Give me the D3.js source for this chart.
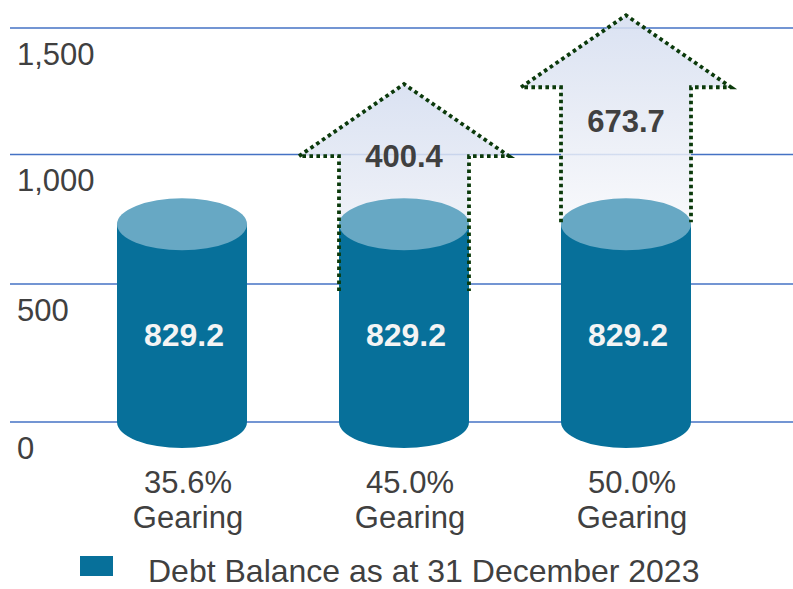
<!DOCTYPE html>
<html>
<head>
<meta charset="utf-8">
<script src="https://cdn.jsdelivr.net/npm/d3@7"></script>
<style>
  body { margin: 0; background: #fff; }
  text { font-family: "Liberation Sans", Arial, sans-serif; }
</style>
</head>
<body>
<div id="chart"></div>
<script>
// data
var categories = ["35.6%", "45.0%", "50.0%"];
var categorySub = "Gearing";
var debtBalance = [829.2, 829.2, 829.2];
var additionalDebt = [null, 400.4, 673.7];
var yTicks = [0, 500, 1000, 1500];
var tickLabels = ["0", "500", "1,000", "1,500"];
var legendLabel = "Debt Balance as at 31 December 2023";

var w = 793, h = 589;
var textColor = "#404040",
    bodyColor = "#07709a",
    topColor = "#67a8c4",
    gridColor = "#4472c4",
    dotColor = "#0b3a0b";

var svg = d3.select("#chart").append("svg")
  .attr("width", w)
  .attr("height", h);

var defs = svg.append("defs");
var grad = defs.append("linearGradient")
  .attr("id", "arrowFill")
  .attr("x1", 0).attr("y1", 0).attr("x2", 0).attr("y2", 1);
grad.append("stop").attr("offset", "0%").attr("stop-color", "#d4ddf0");
grad.append("stop").attr("offset", "45%").attr("stop-color", "#e4e9f4");
grad.append("stop").attr("offset", "100%").attr("stop-color", "#f7f8fb");

var y = d3.scalePow().exponent(0.955).domain([0, 1500]).range([422, 28]);
var x = d3.scaleBand().domain(categories).range([71, 737]);

var rx = 65, ry = 26;
var headH = 72, headHalf = 105, arrowLen = 207, tipPad = 12;

// gridlines
svg.append("g").selectAll("line")
  .data(yTicks)
  .enter().append("line")
  .attr("x1", 10).attr("x2", w)
  .attr("y1", d => y(d)).attr("y2", d => y(d))
  .attr("stroke", gridColor)
  .attr("stroke-width", 1.3);

svg.append("g").selectAll("text")
  .data(yTicks)
  .enter().append("text")
  .attr("x", 17)
  .attr("y", d => y(d) + 37)
  .text((d, i) => tickLabels[i])
  .style("font-size", "31px")
  .style("fill", textColor);

var items = categories.map((c, i) => ({
  cat: c, base: debtBalance[i], extra: additionalDebt[i]
}));

function arrowPts(d) {
  var cx = x(d.cat) + x.bandwidth() / 2;
  var tip = y(d.base + d.extra) - tipPad;
  var hb = tip + headH, sb = tip + arrowLen;
  return { cx: cx, tip: tip, hb: hb, sb: sb };
}

var arrows = items.filter(d => d.extra != null);

// arrow fill behind cylinders
svg.append("g").selectAll("path")
  .data(arrows)
  .enter().append("path")
  .attr("d", d => {
    var a = arrowPts(d);
    return `M${a.cx},${a.tip}L${a.cx + headHalf},${a.hb}L${a.cx + rx},${a.hb}L${a.cx + rx},${a.sb}` +
      `L${a.cx - rx},${a.sb}L${a.cx - rx},${a.hb}L${a.cx - headHalf},${a.hb}Z`;
  })
  .attr("fill", "url(#arrowFill)")
  .attr("fill-opacity", 0.85);

// cylinders
var cyl = svg.append("g").selectAll("g")
  .data(items)
  .enter().append("g");

cyl.append("path")
  .attr("d", d => {
    var cx = x(d.cat) + x.bandwidth() / 2;
    var top = y(d.base) + ry, bot = y(0);
    return `M${cx - rx},${top}L${cx - rx},${bot}A${rx},${ry} 0 0 0 ${cx + rx},${bot}L${cx + rx},${top}Z`;
  })
  .attr("fill", bodyColor);

cyl.append("ellipse")
  .attr("cx", d => x(d.cat) + x.bandwidth() / 2)
  .attr("cy", d => y(d.base) + ry)
  .attr("rx", rx).attr("ry", ry)
  .attr("fill", topColor);

cyl.append("text")
  .attr("x", d => x(d.cat) + x.bandwidth() / 2 + 2)
  .attr("y", y(0) - 76)
  .attr("text-anchor", "middle")
  .text(d => d.base.toFixed(1))
  .style("font-size", "32px")
  .style("font-weight", "bold")
  .style("fill", "#f4f4f4");

// arrow outline on top
svg.append("g").selectAll("path")
  .data(arrows)
  .enter().append("path")
  .attr("d", d => {
    var a = arrowPts(d);
    return `M${a.cx - rx},${a.sb}L${a.cx - rx},${a.hb}L${a.cx - headHalf},${a.hb}L${a.cx},${a.tip}` +
      `L${a.cx + headHalf},${a.hb}L${a.cx + rx},${a.hb}L${a.cx + rx},${a.sb}`;
  })
  .attr("fill", "none")
  .attr("stroke", dotColor)
  .attr("stroke-width", 3.8)
  .attr("stroke-dasharray", "3.6,3.4");

svg.append("g").selectAll("text")
  .data(arrows)
  .enter().append("text")
  .attr("x", d => x(d.cat) + x.bandwidth() / 2)
  .attr("y", d => y(d.base + d.extra / 2) + 20)
  .attr("text-anchor", "middle")
  .text(d => d.extra.toFixed(1))
  .style("font-size", "31px")
  .style("font-weight", "bold")
  .style("fill", textColor);

// category labels
var cats = svg.append("g").selectAll("text")
  .data(categories)
  .enter().append("text")
  .attr("x", d => x(d) + x.bandwidth() / 2 + 6)
  .attr("text-anchor", "middle")
  .style("font-size", "31px")
  .style("fill", textColor);

cats.append("tspan")
  .attr("x", d => x(d) + x.bandwidth() / 2 + 6)
  .attr("y", 493)
  .text(d => d);
cats.append("tspan")
  .attr("x", d => x(d) + x.bandwidth() / 2 + 6)
  .attr("y", 528)
  .text(categorySub);

// legend
svg.append("rect")
  .attr("x", 80).attr("y", 556)
  .attr("width", 33).attr("height", 20)
  .attr("fill", bodyColor);

svg.append("text")
  .attr("x", 148).attr("y", 582)
  .text(legendLabel)
  .style("font-size", "32px")
  .style("fill", textColor);
</script>
</body>
</html>
